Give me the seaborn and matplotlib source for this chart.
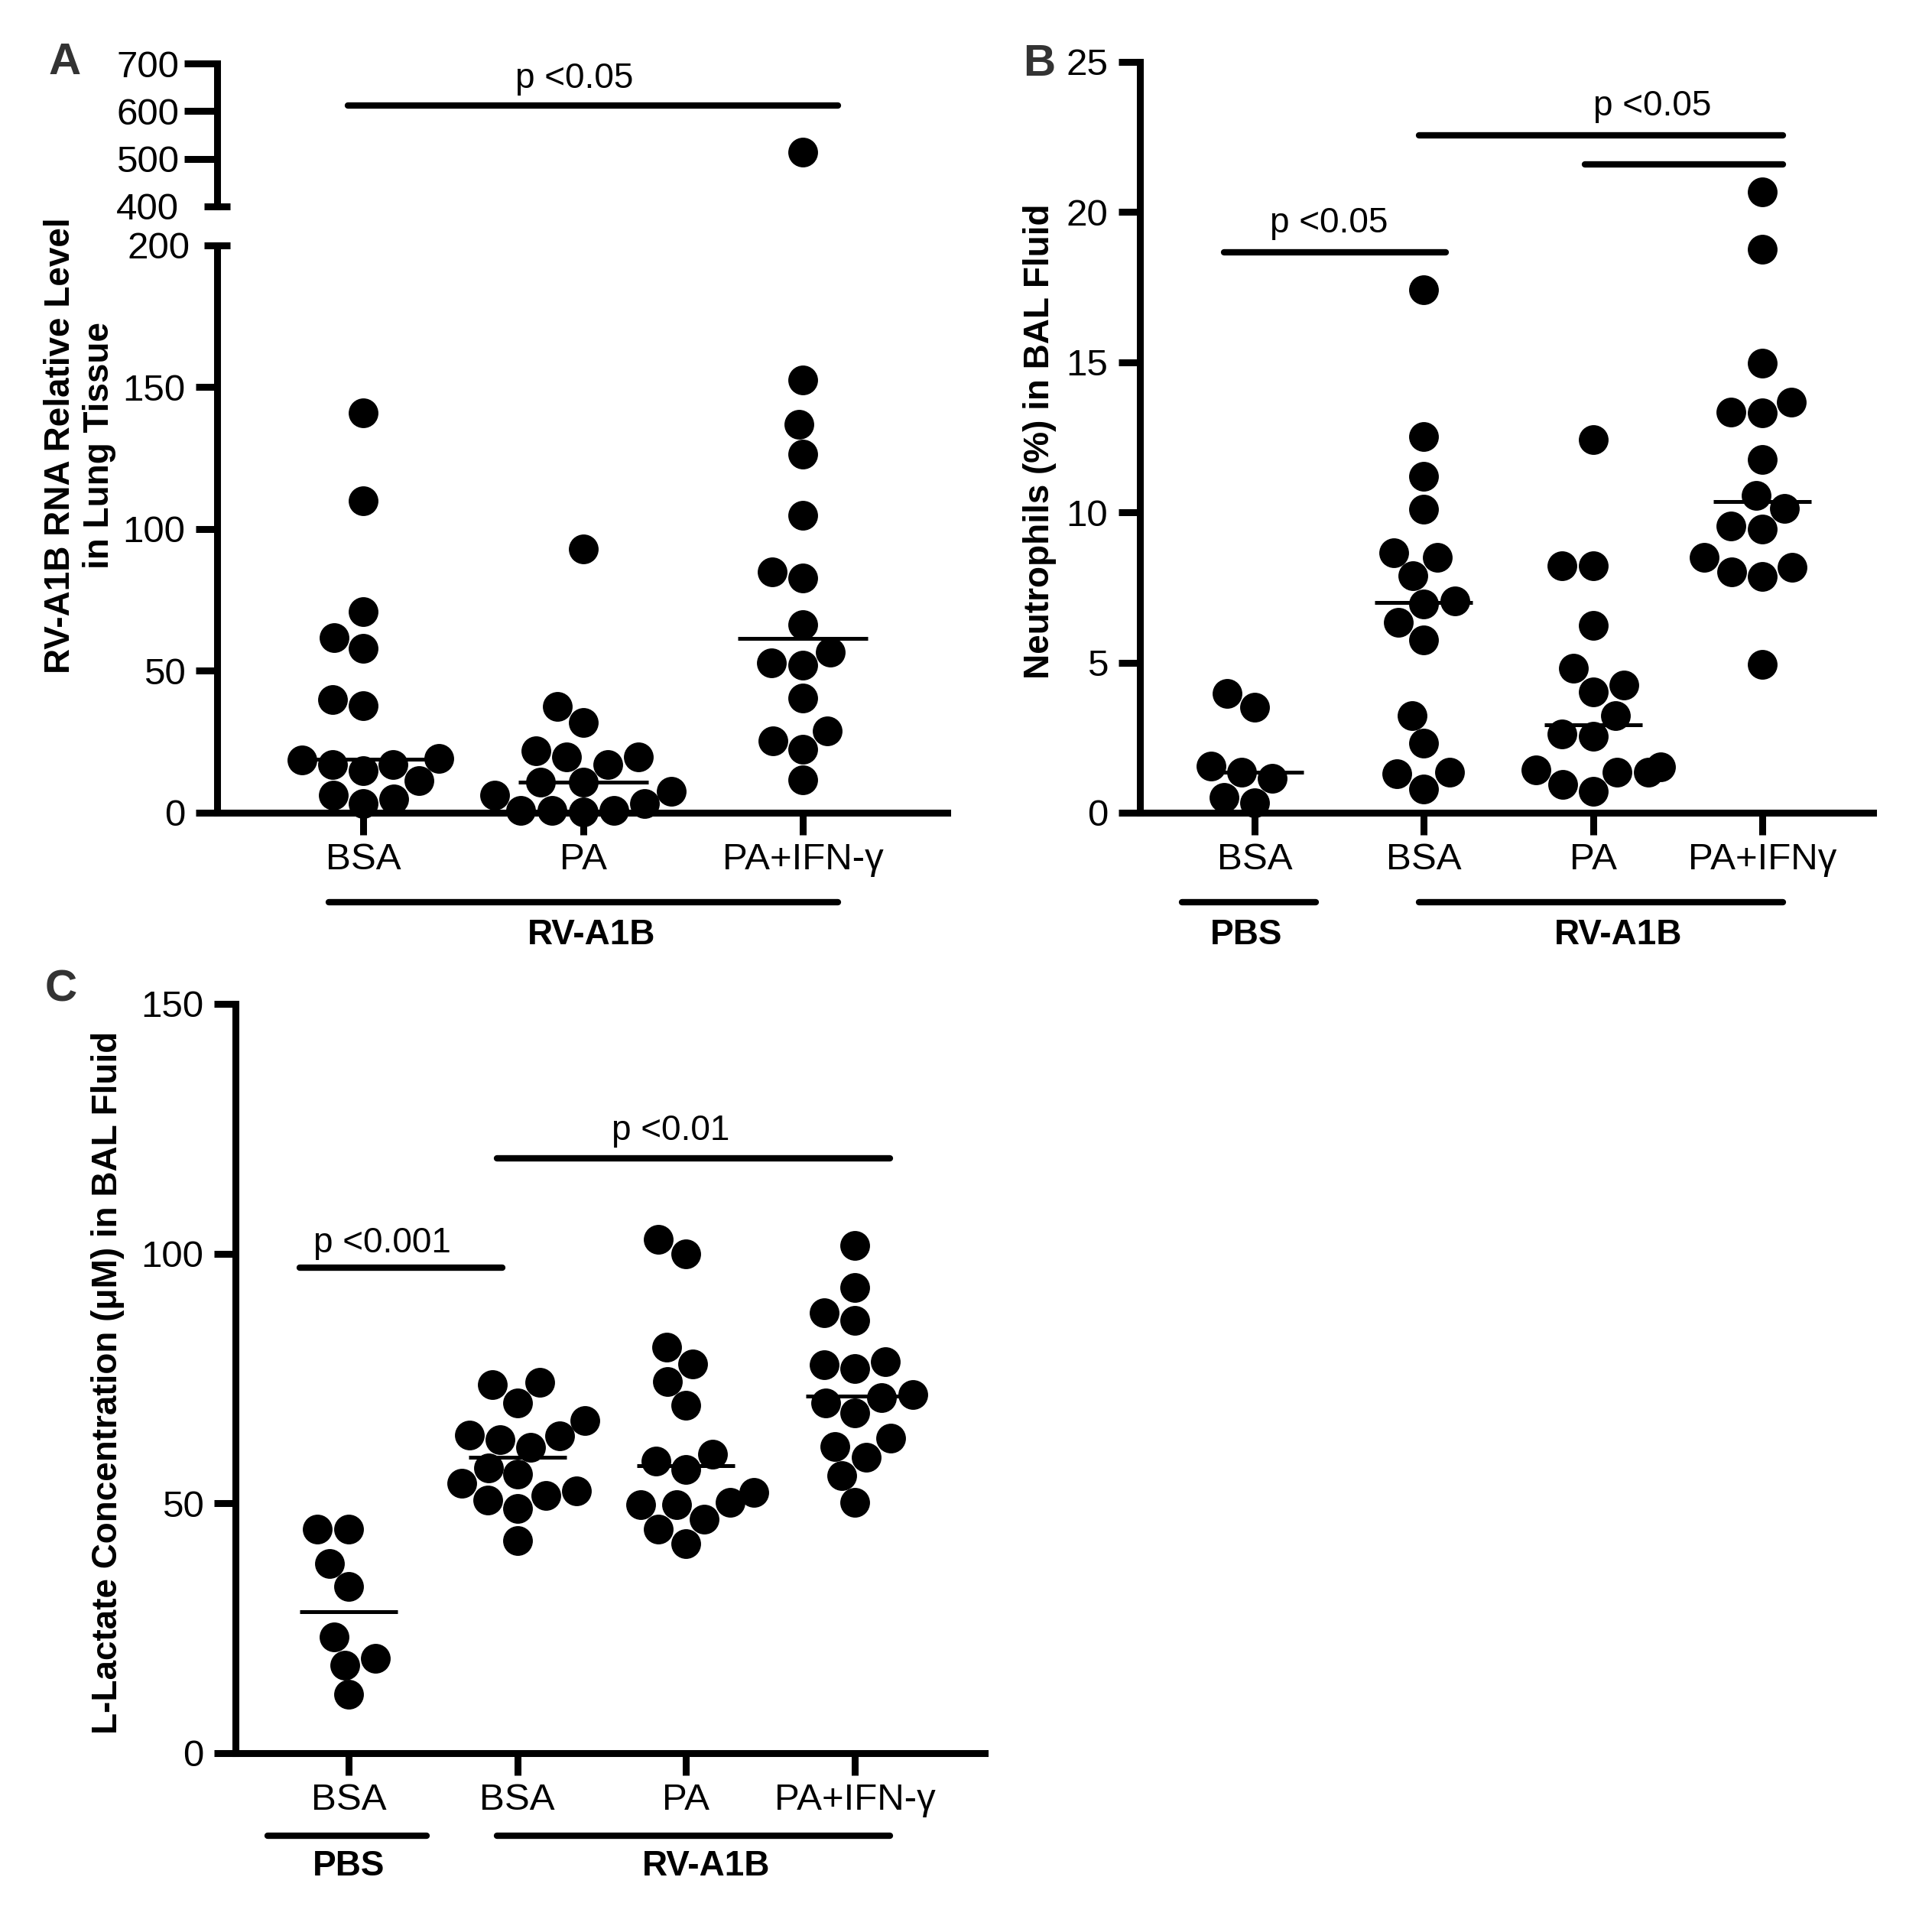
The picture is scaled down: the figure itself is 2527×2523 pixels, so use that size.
import numpy as np
import pandas as pd
import seaborn as sns
import matplotlib
import matplotlib.pyplot as plt

matplotlib.use('Agg')

# ---- data ----
a_order = ['BSA', 'PA', 'PA+IFN']
a_ticklabels = ['BSA', 'PA', 'PA+IFN-\u03b3']
a_bsa = [141, 110, 71, 61.6, 58, 40, 37.7, 19.2, 18.5, 17, 17, 14.7, 11.2, 6.2, 4.9, 3.1]
a_pa = [93, 37.5, 31.7, 21.9, 19.6, 19.6, 17, 10.7, 10.7, 7.6, 6.2, 3.1, 0.9, 0.9, 0.9, 0.2]
a_pa_ifn = [514.5, 152.5, 136.9, 126.5, 104.8, 84.9, 82.7, 66.4, 56.7, 52.8, 51.9, 40.4,
            28.9, 25.2, 22.4, 11.6]

b_order = ['PBS BSA', 'RV BSA', 'RV PA', 'RV PA+IFN']
b_ticklabels = ['BSA', 'BSA', 'PA', 'PA+IFN\u03b3']
b_pbs_bsa = [3.98, 3.51, 1.56, 1.36, 1.15, 0.5, 0.33]
b_rv_bsa = [17.42, 12.52, 11.19, 10.1, 8.66, 8.5, 7.89, 7.04, 6.96, 6.34, 5.76, 3.24,
            2.32, 1.36, 1.3, 0.8]
b_pa = [12.41, 8.23, 8.23, 6.23, 4.8, 4.24, 4.03, 3.22, 2.62, 2.54, 1.52, 1.43, 1.35,
        1.35, 0.93, 0.71]
b_pa_ifn = [20.66, 18.75, 14.97, 13.67, 13.35, 13.31, 11.77, 10.57, 10.14, 9.55, 9.44,
            8.49, 8.17, 8.02, 7.87, 4.94]

c_order = ['PBS BSA', 'RV BSA', 'RV PA', 'RV PA+IFN']
c_ticklabels = ['BSA', 'BSA', 'PA', 'PA+IFN-\u03b3']
c_pbs_bsa = [44.9, 44.9, 38.0, 33.3, 23.2, 18.9, 17.6, 11.7]
c_rv_bsa = [74.2, 73.7, 70.1, 66.5, 63.7, 63.5, 62.7, 61.2, 57.1, 55.8, 54.0, 52.5, 51.5,
            50.7, 48.9, 42.6]
c_pa = [102.8, 100.0, 81.2, 77.9, 74.4, 69.6, 59.9, 58.4, 56.7, 52.2, 50.2, 49.7, 49.7,
        46.9, 44.8, 42.0]
c_pa_ifn = [101.6, 93.2, 88.1, 86.7, 78.3, 77.8, 77.0, 71.8, 71.1, 70.1, 68.1, 63.0, 61.4,
            59.2, 55.6, 50.2]


def long_df(groups, values):
    return pd.DataFrame({'group': np.repeat(groups, [len(v) for v in values]),
                         'value': np.concatenate(values)})


df_a = long_df(a_order, [a_bsa, a_pa, a_pa_ifn])
df_b = long_df(b_order, [b_pbs_bsa, b_rv_bsa, b_pa, b_pa_ifn])
df_c = long_df(c_order, [c_pbs_bsa, c_rv_bsa, c_pa, c_pa_ifn])

sns.set_style('ticks', {'axes.edgecolor': 'black', 'text.color': 'black',
                        'xtick.color': 'black', 'ytick.color': 'black',
                        'axes.labelcolor': 'black'})
plt.rcParams['font.family'] = ['Liberation Sans', 'DejaVu Sans']
plt.rcParams['axes.linewidth'] = 6.5

LW = 6.5
TICKSIZE = 35.5
PSIZE = 33
GROUPSIZE = 33
DOT = 28


def dots(ax, df, order, clip=False):
    sns.swarmplot(data=df, x='group', y='value', order=order, color='k', size=DOT,
                  linewidth=0, clip_on=clip, zorder=3, ax=ax)


def medians(ax, df, order, msize):
    sns.pointplot(data=df, x='group', y='value', order=order, estimator='median',
                  errorbar=None, linestyle='none', marker='_', markersize=msize,
                  markeredgewidth=3.6, color='k', zorder=1, ax=ax)


def style(ax, order, labels, xlim):
    sns.despine(ax=ax)
    ax.set_xlim(xlim)
    ax.set_xticks(range(len(order)), labels)
    ax.set_xlabel('')
    ax.tick_params(axis='x', length=21, width=LW, pad=7, labelsize=TICKSIZE)
    ax.tick_params(axis='y', which='major', length=20, width=LW, pad=10, labelsize=TICKSIZE)


def bar(ax, x0, x1, y, transform=None):
    kw = {} if transform is None else {'transform': transform}
    ax.plot([x0, x1], [y, y], color='k', lw=6, solid_capstyle='round', clip_on=False, **kw)


fig = plt.figure(figsize=(25.27, 25.23), dpi=100)

# ---- panel A (broken axis) ----
ax_a = fig.add_axes([0.1124, 0.5787, 0.3779, 0.2941])
ax_at = fig.add_axes([0.1124, 0.8930, 0.3779, 0.0741])
a_xlim = (-0.664, 2.657)

medians(ax_a, df_a, a_order, 122)
dots(ax_a, df_a, a_order)
style(ax_a, a_order, a_ticklabels, a_xlim)
ax_a.set_ylim(0, 200)
ax_a.set_yticks([0, 50, 100, 150])
ax_a.set_yticks([200], ['200'], minor=True)
ax_a.tick_params(axis='y', which='minor', direction='inout', length=24.5, width=LW,
                 pad=13, labelsize=TICKSIZE)
ax_a.set_ylabel('RV-A1B RNA Relative Level\nin Lung Tissue', fontsize=33,
                fontweight='bold', va='center', linespacing=1.2)
ax_a.yaxis.set_label_coords(-0.188, 0.647)

dots(ax_at, df_a[df_a['value'] > 400], a_order, clip=True)
sns.despine(ax=ax_at, bottom=True)
ax_at.set_xlim(a_xlim)
ax_at.set_xticks([])
ax_at.set_xlabel('')
ax_at.set_ylabel('')
ax_at.set_ylim(400, 700)
ax_at.set_yticks([500, 600, 700])
ax_at.set_yticks([400], ['400'], minor=True)
ax_at.tick_params(axis='y', which='major', length=31, width=LW, pad=5, labelsize=TICKSIZE)
ax_at.tick_params(axis='y', which='minor', direction='inout', length=24.5, width=LW,
                  pad=24, labelsize=TICKSIZE)
bar(ax_at, -0.07, 2.16, 612)
ax_at.text(0.96, 649, 'p <0.05', ha='center', va='baseline', fontsize=PSIZE)

tr = ax_a.get_xaxis_transform()
bar(ax_a, -0.156, 2.16, -0.158, tr)
ax_a.text(1.04, -0.216, 'RV-A1B', transform=tr, ha='center', va='center',
          fontsize=GROUPSIZE, fontweight='bold')

# ---- panel B ----
ax_b = fig.add_axes([0.5900, 0.5787, 0.3795, 0.3892])
medians(ax_b, df_b, b_order, 92)
dots(ax_b, df_b, b_order)
style(ax_b, b_order, b_ticklabels, (-0.678, 3.655))
ax_b.set_ylim(0, 25)
ax_b.set_yticks([0, 5, 10, 15, 20, 25])
ax_b.set_ylabel('Neutrophils (%) in BAL Fluid', fontsize=33, fontweight='bold', va='center')
ax_b.yaxis.set_label_coords(-0.137, 0.495)
bar(ax_b, -0.18, 1.13, 18.67)
bar(ax_b, 0.97, 3.12, 22.56)
bar(ax_b, 1.95, 3.12, 21.58)
ax_b.text(0.44, 19.33, 'p <0.05', ha='center', va='baseline', fontsize=PSIZE)
ax_b.text(2.35, 23.22, 'p <0.05', ha='center', va='baseline', fontsize=PSIZE)
tr = ax_b.get_xaxis_transform()
bar(ax_b, -0.43, 0.36, -0.119, tr)
bar(ax_b, 0.97, 3.12, -0.119, tr)
ax_b.text(-0.05, -0.163, 'PBS', transform=tr, ha='center', va='center',
          fontsize=GROUPSIZE, fontweight='bold')
ax_b.text(2.15, -0.163, 'RV-A1B', transform=tr, ha='center', va='center',
          fontsize=GROUPSIZE, fontweight='bold')

# ---- panel C ----
ax_c = fig.add_axes([0.1219, 0.0912, 0.3878, 0.3884])
medians(ax_c, df_c, c_order, 92)
dots(ax_c, df_c, c_order)
style(ax_c, c_order, c_ticklabels, (-0.671, 3.77))
ax_c.set_ylim(0, 150)
ax_c.set_yticks([0, 50, 100, 150])
ax_c.set_ylabel('L-Lactate Concentration (\u03bcM) in BAL Fluid', fontsize=33,
                fontweight='bold', va='center')
ax_c.yaxis.set_label_coords(-0.170, 0.494)
bar(ax_c, -0.29, 0.91, 97.2)
bar(ax_c, 0.88, 3.21, 119)
ax_c.text(0.2, 100.3, 'p <0.001', ha='center', va='baseline', fontsize=PSIZE)
ax_c.text(1.91, 122.7, 'p <0.01', ha='center', va='baseline', fontsize=PSIZE)
tr = ax_c.get_xaxis_transform()
bar(ax_c, -0.48, 0.46, -0.110, tr)
bar(ax_c, 0.88, 3.21, -0.110, tr)
ax_c.text(0, -0.151, 'PBS', transform=tr, ha='center', va='center',
          fontsize=GROUPSIZE, fontweight='bold')
ax_c.text(2.12, -0.151, 'RV-A1B', transform=tr, ha='center', va='center',
          fontsize=GROUPSIZE, fontweight='bold')

# panel letters
for x, y, s in [(0.0336, 0.9675, 'A'), (0.538, 0.9667, 'B'), (0.0317, 0.4871, 'C')]:
    fig.text(x, y, s, ha='center', va='center', fontsize=42, fontweight='bold',
             color='#333333')

plt.savefig('out.png', dpi=100)
plt.close()
